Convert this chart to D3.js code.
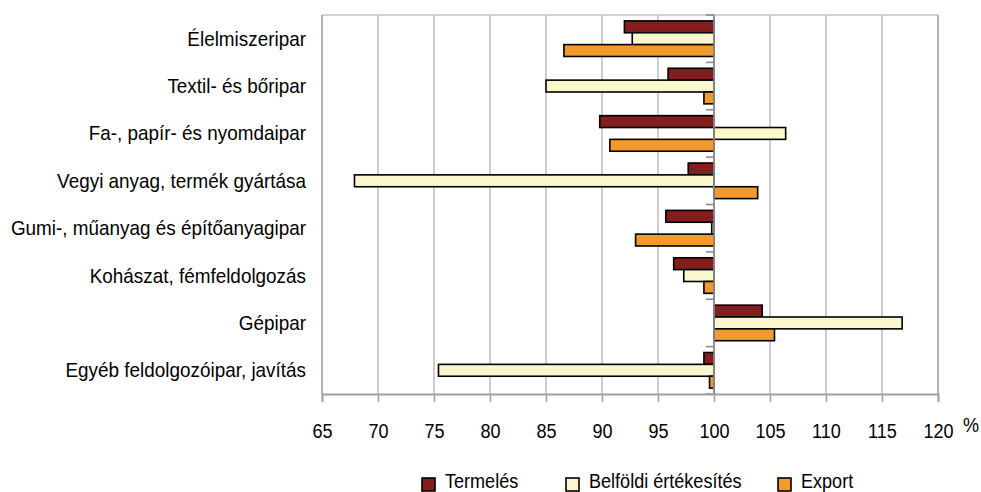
<!DOCTYPE html>
<html><head><meta charset="utf-8">
<script src="https://cdn.jsdelivr.net/npm/d3@7"></script>
<style>body{margin:0;background:#fff}svg{display:block}text{font-family:"Liberation Sans",Arial,sans-serif;fill:#000}</style>
</head><body><svg id="c" width="981" height="492"></svg>
<script>
const categories = ["Élelmiszeripar","Textil- és bőripar","Fa-, papír- és nyomdaipar","Vegyi anyag, termék gyártása","Gumi-, műanyag és építőanyagipar","Kohászat, fémfeldolgozás","Gépipar","Egyéb feldolgozóipar, javítás"];
const seriesNames = ["Termelés","Belföldi értékesítés","Export"];
const termeles = [92.0, 95.9, 89.8, 97.7, 95.7, 96.4, 104.3, 99.1];
const belfoldi = [92.7, 85.0, 106.4, 67.9, 99.8, 97.3, 116.8, 75.4];
const exportV  = [86.6, 99.1, 90.7, 103.9, 93.0, 99.1, 105.4, 99.6];
const xTicks = [65,70,75,80,85,90,95,100,105,110,115,120];
const colors = ["#841e1e","#faf7cf","#f39a2c"];

const svg = d3.select("#c");
const L=322, R=938, T=15, B=394;
const x = d3.scaleLinear().domain([65,120]).range([L,R]);
const y0 = d3.scaleBand().domain(categories).range([T,B]).padding(0);
const y1 = d3.scaleBand().domain(seriesNames).range([5.9, y0.bandwidth()-5.9]).padding(0);
const data = [termeles, belfoldi, exportV];
const FS = 21;

// gridlines
svg.append("g").selectAll("line").data(xTicks.filter(t=>t>65&&t<120)).join("line")
  .attr("x1",d=>x(d)).attr("x2",d=>x(d)).attr("y1",T).attr("y2",B)
  .attr("stroke","#c0c0c0").attr("stroke-width",1.6);
// plot border
svg.append("line").attr("x1",L).attr("x2",R).attr("y1",T).attr("y2",T).attr("stroke","#c4c4c4").attr("stroke-width",1.6);
svg.append("line").attr("x1",L).attr("x2",L).attr("y1",T).attr("y2",B).attr("stroke","#a0a0a0").attr("stroke-width",1.6);
svg.append("line").attr("x1",R).attr("x2",R).attr("y1",T).attr("y2",B).attr("stroke","#a0a0a0").attr("stroke-width",1.6);

// bars
categories.forEach((c,i)=>{
  seriesNames.forEach((s,j)=>{
    const v = data[j][i];
    svg.append("rect")
      .attr("x", x(Math.min(v,100))).attr("width", Math.abs(x(v)-x(100)))
      .attr("y", y0(c)+y1(s)).attr("height", y1.bandwidth())
      .attr("fill", colors[j]).attr("stroke","#000").attr("stroke-width",1.6);
  });
});

// category axis at 100
const ax100 = svg.append("g");
ax100.append("line").attr("x1",x(100)).attr("x2",x(100)).attr("y1",T).attr("y2",B).attr("stroke","#8c8c8c").attr("stroke-width",1.8);
const bounds = categories.map(c=>y0(c)).concat([B]);
ax100.selectAll("line.t").data(bounds).join("line").attr("class","t")
  .attr("x1",x(100)-8).attr("x2",x(100)).attr("y1",d=>d).attr("y2",d=>d)
  .attr("stroke","#8c8c8c").attr("stroke-width",1.6);

// bottom axis
const xAxis = svg.append("g").attr("transform",`translate(0,${B})`)
  .call(d3.axisBottom(x).tickValues(xTicks).tickSize(8).tickFormat(d=>d));
xAxis.select(".domain").attr("stroke","#a0a0a0").attr("stroke-width",1.8);
xAxis.selectAll(".tick line").attr("stroke","#a0a0a0").attr("stroke-width",1.6);
xAxis.selectAll(".tick text").remove();
xAxis.selectAll(".tick").append("text")
  .attr("transform","translate(0,44) scale(0.86,1)")
  .attr("text-anchor","middle").attr("font-size",FS)
  .attr("font-family",'"Liberation Sans",Arial,sans-serif').attr("fill","#000")
  .text(d=>d);
svg.append("text").attr("transform","translate(963,432) scale(0.86,1)").attr("font-size",FS).text("%");

// category labels
svg.append("g").selectAll("text").data(categories).join("text")
  .attr("transform",c=>`translate(306,${y0(c)+y0.bandwidth()/2+7}) scale(0.9,1)`)
  .attr("text-anchor","end").attr("font-size",FS).text(c=>c);

// legend
const legX = [422, 566, 778];
const lg = svg.append("g");
seriesNames.forEach((s,j)=>{
  lg.append("rect").attr("x",legX[j]).attr("y",478).attr("width",13).attr("height",13)
    .attr("fill",colors[j]).attr("stroke","#000").attr("stroke-width",1.6);
  lg.append("text").attr("transform",`translate(${legX[j]+23},488) scale(0.86,1)`).attr("font-size",FS).text(s);
});
</script></body></html>
